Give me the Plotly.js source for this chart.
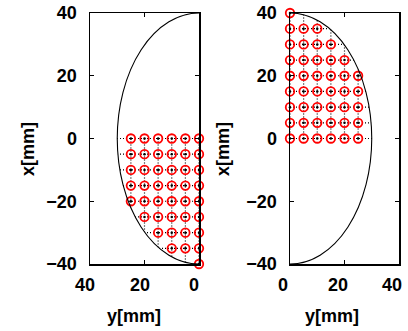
<!DOCTYPE html>
<html>
<head>
<meta charset="utf-8">
<script src="https://cdn.plot.ly/plotly-3.0.1.min.js"></script>
<style>html,body{margin:0;padding:0;background:#fff;overflow:hidden;}#chart{width:408px;height:331px;}</style>
</head>
<body>
<div id="chart"></div>
<script>
// ---- data ----
const colsY = [0, 5, 10, 15, 20, 25];                       // y[mm] grid columns
const leftRowsX = [0, -5, -10, -15, -20, -25, -30, -35, -40]; // x[mm] grid rows (left panel)
const leftRowsMaxY = [25, 25, 25, 25, 25, 20, 15, 10, 0];   // last grid column in each row
const rightRowsX = [0, 5, 10, 15, 20, 25, 30, 35, 40];      // x[mm] grid rows (right panel)
const rightRowsMaxY = [25, 25, 25, 25, 25, 20, 15, 10, 0];
const ellipseSemiY = 30;   // half width of the outline along y[mm]
const ellipseSemiX = 40;   // half height of the outline along x[mm]
const yTickVals = [-40, -20, 0, 20, 40];
const xTickVals = [0, 20, 40];
const xTickText = ['0', '20', '40'];

function gridPoints(rows, maxY) {
  const px = [], py = [];
  rows.forEach((xv, i) => {
    colsY.forEach(yv => { if (yv <= maxY[i]) { px.push(yv); py.push(xv); } });
  });
  return {px, py};
}
function dottedLines(rows, sign) {
  const lx = [], ly = [];
  rows.forEach(xv => {
    const yEdge = ellipseSemiY * Math.sqrt(Math.max(0, 1 - (xv / ellipseSemiX) ** 2));
    lx.push(0, yEdge, null); ly.push(xv, xv, null);
  });
  colsY.forEach(yv => {
    const xEdge = sign * ellipseSemiX * Math.sqrt(Math.max(0, 1 - (yv / ellipseSemiY) ** 2));
    lx.push(yv, yv, null); ly.push(0, xEdge, null);
  });
  return {lx, ly};
}

const gL = gridPoints(leftRowsX, leftRowsMaxY);
const gR = gridPoints(rightRowsX, rightRowsMaxY);
const dL = dottedLines(leftRowsX, -1);
const dR = dottedLines(rightRowsX, 1);

const dotLine = {color: 'black', width: 1.2, dash: '1px,2px'};
const redMarker = {symbol: 'circle-open', size: 8.5, color: 'red', line: {color: 'red', width: 1.8}};
const blackDot = {symbol: 'circle', size: 2.5, color: 'black'};

const traces = [
  {x: dL.lx, y: dL.ly, xaxis: 'x', yaxis: 'y', mode: 'lines', line: dotLine, hoverinfo: 'skip'},
  {x: gL.px, y: gL.py, xaxis: 'x', yaxis: 'y', mode: 'markers', marker: blackDot, cliponaxis: false},
  {x: gL.px, y: gL.py, xaxis: 'x', yaxis: 'y', mode: 'markers', marker: redMarker, cliponaxis: false},
  {x: dR.lx, y: dR.ly, xaxis: 'x2', yaxis: 'y2', mode: 'lines', line: dotLine, hoverinfo: 'skip'},
  {x: gR.px, y: gR.py, xaxis: 'x2', yaxis: 'y2', mode: 'markers', marker: blackDot, cliponaxis: false},
  {x: gR.px, y: gR.py, xaxis: 'x2', yaxis: 'y2', mode: 'markers', marker: redMarker, cliponaxis: false}
];

const W = 408, H = 331;
const tickFont = {family: 'Liberation Sans, Arial, sans-serif', size: 18, color: 'black', weight: 'bold'};
const axisBase = {
  showline: true, linecolor: 'black', linewidth: 1.5, mirror: 'ticks',
  ticks: 'inside', ticklen: 4, tickcolor: 'black', tickwidth: 1,
  showgrid: false, zeroline: false, tickfont: tickFont, automargin: false, fixedrange: true
};
const yDomain = [1 - 264 / H, 1 - 13 / H];

// x tick labels drawn as annotations placed on the x axes' own scales;
// anchored at their right edge so the last label stays inside the page
const xLabelY = 1 - 285 / H;
const xTickLabels = [];
[['x', -4], ['x2', -6]].forEach(([ref, shift]) => {
  xTickVals.forEach((v, i) => {
    const halfW = 5.5 * xTickText[i].length;
    xTickLabels.push({text: xTickText[i], xref: ref, yref: 'paper', x: v, y: xLabelY, xshift: shift + halfW,
      showarrow: false, font: tickFont, xanchor: 'right', yanchor: 'middle'});
  });
});

const layout = {
  width: W, height: H,
  margin: {l: 0, r: 0, t: 0, b: 0},
  paper_bgcolor: 'white', plot_bgcolor: 'white',
  showlegend: false,
  xaxis: Object.assign({}, axisBase, {domain: [90 / W, 199 / W], range: [40, 0], tickvals: xTickVals, anchor: 'y', showticklabels: false}),
  yaxis: Object.assign({}, axisBase, {domain: yDomain, range: [-40, 40], tickvals: yTickVals, anchor: 'x', ticklabelstandoff: 8}),
  xaxis2: Object.assign({}, axisBase, {domain: [290 / W, 399 / W], range: [0, 40], tickvals: xTickVals, anchor: 'y2', showticklabels: false}),
  yaxis2: Object.assign({}, axisBase, {domain: yDomain, range: [-40, 40], tickvals: yTickVals, anchor: 'x2', ticklabelstandoff: 8}),
  shapes: [
    {type: 'circle', xref: 'x', yref: 'y', x0: -ellipseSemiY, x1: ellipseSemiY, y0: -ellipseSemiX, y1: ellipseSemiX,
     line: {color: 'black', width: 1.1}, layer: 'above'},
    {type: 'circle', xref: 'x2', yref: 'y2', x0: -ellipseSemiY, x1: ellipseSemiY, y0: -ellipseSemiX, y1: ellipseSemiX,
     line: {color: 'black', width: 1.1}, layer: 'above'}
  ],
  annotations: xTickLabels.concat([
    {text: 'x[mm]', xref: 'paper', yref: 'paper', x: 28 / W, y: 1 - 149 / H, textangle: -90, showarrow: false, font: tickFont, xanchor: 'center', yanchor: 'middle'},
    {text: 'y[mm]', xref: 'paper', yref: 'paper', x: 133.5 / W, y: 1 - 316 / H, showarrow: false, font: tickFont, xanchor: 'center', yanchor: 'middle'},
    {text: 'x[mm]', xref: 'paper', yref: 'paper', x: 223 / W, y: 1 - 149 / H, textangle: -90, showarrow: false, font: tickFont, xanchor: 'center', yanchor: 'middle'},
    {text: 'y[mm]', xref: 'paper', yref: 'paper', x: 332 / W, y: 1 - 316 / H, showarrow: false, font: tickFont, xanchor: 'center', yanchor: 'middle'}
  ])
};

Plotly.newPlot('chart', traces, layout, {displayModeBar: false, staticPlot: true});
</script>
</body>
</html>
